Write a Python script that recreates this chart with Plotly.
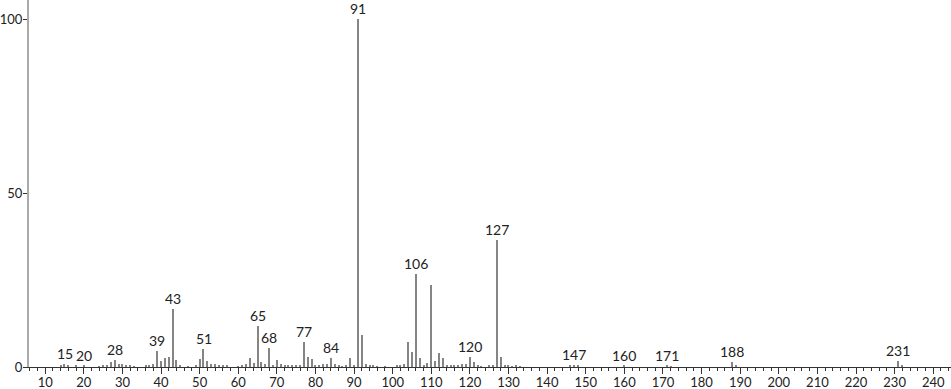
import plotly.graph_objects as go

mz = [14, 15, 16, 18, 20, 24, 25, 26, 27, 28, 29, 30, 31, 32, 33, 36, 37, 38, 39, 40,
      41, 42, 43, 44, 45, 47, 49, 50, 51, 52, 53, 54, 55, 56, 57, 60, 61, 62, 63, 64,
      65, 66, 67, 68, 69, 70, 71, 72, 73, 74, 75, 76, 77, 78, 79, 80, 81, 82, 83, 84,
      85, 86, 87, 88, 89, 90, 91, 92, 93, 94, 95, 96, 98, 101, 102, 103, 104, 105, 106, 107,
      108, 109, 110, 111, 112, 113, 114, 115, 116, 117, 118, 119, 120, 121, 122, 123, 125, 126, 127, 128,
      129, 130, 131, 132, 133, 146, 147, 148, 160, 171, 172, 188, 189, 231, 232]
intensity = [0.3, 0.8, 0.3, 0.4, 0.3, 0.2, 0.3, 0.6, 1.5, 2.0, 1.0, 0.8, 0.4, 0.3, 0.2, 0.3, 0.5, 1.0, 4.7, 1.8,
             2.6, 2.9, 16.8, 2.0, 0.5, 0.2, 0.3, 2.3, 5.1, 1.8, 1.0, 0.8, 0.5, 0.3, 0.3, 0.2, 0.4, 0.9, 2.6, 1.1,
             11.7, 1.3, 0.8, 5.5, 0.6, 2.0, 1.0, 0.3, 0.3, 0.4, 0.5, 0.7, 7.2, 2.8, 2.2, 0.4, 0.5, 0.8, 1.0, 2.6,
             1.0, 0.4, 0.2, 0.3, 2.6, 0.3, 100.0, 9.2, 0.9, 0.5, 0.4, 0.2, 0.2, 0.3, 0.5, 0.9, 7.3, 4.2, 26.7, 2.5,
             0.6, 1.1, 23.6, 1.7, 3.9, 2.5, 0.5, 0.6, 0.3, 0.4, 0.8, 1.0, 2.8, 1.5, 0.6, 0.2, 0.3, 0.5, 36.5, 2.8,
             0.4, 0.3, 0.2, 0.3, 0.2, 0.3, 0.6, 0.3, 0.3, 0.4, 0.2, 1.5, 0.5, 1.6, 0.3]

labeled_mz = [15, 20, 28, 39, 43, 51, 65, 68, 77, 84, 91, 106, 120, 127, 147, 160, 171, 188, 231]

x_ticks = list(range(10, 250, 10))
y_ticks = [0, 50, 100]

lookup = dict(zip(mz, intensity))

fig = go.Figure()
fig.add_trace(go.Bar(x=mz, y=intensity, width=0.28,
                     marker=dict(color="#858585", line=dict(width=0)),
                     hoverinfo="x+y"))

for m in labeled_mz:
    fig.add_annotation(x=m, y=lookup.get(m, 0), text=str(m), showarrow=False,
                       yanchor="bottom", xanchor="center", yshift=0,
                       font=dict(family="Lato, sans-serif", size=14, color="#222"))

fig.update_layout(
    width=951, height=389,
    margin=dict(l=29, r=0, t=0, b=22),
    paper_bgcolor="white", plot_bgcolor="white",
    showlegend=False, bargap=0,
    font=dict(family="Lato, sans-serif", size=13, color="#222"),
)
fig.update_xaxes(range=[5.8, 244.6], tickmode="array", tickvals=x_ticks,
                 ticktext=[str(v) for v in x_ticks],
                 ticks="outside", ticklen=6, tickcolor="#333", tickwidth=1,
                 minor=dict(dtick=2, tick0=0, ticks="outside", ticklen=3, tickcolor="#333", tickwidth=1),
                 showline=True, linecolor="#333", linewidth=1,
                 showgrid=False, zeroline=False, automargin=False,
                 ticklabelstandoff=-3,
                 tickfont=dict(size=13, color="#222"))
fig.update_yaxes(range=[0, 105.5], tickmode="array", tickvals=y_ticks,
                 ticktext=[str(v) for v in y_ticks],
                 ticks="outside", ticklen=4, tickcolor="#333", tickwidth=1,
                 showline=True, linecolor="#aaaaaa", linewidth=2,
                 showgrid=False, zeroline=False, automargin=False,
                 ticklabelstandoff=-2,
                 tickfont=dict(size=13, color="#222"))

fig.write_html("out.html")
